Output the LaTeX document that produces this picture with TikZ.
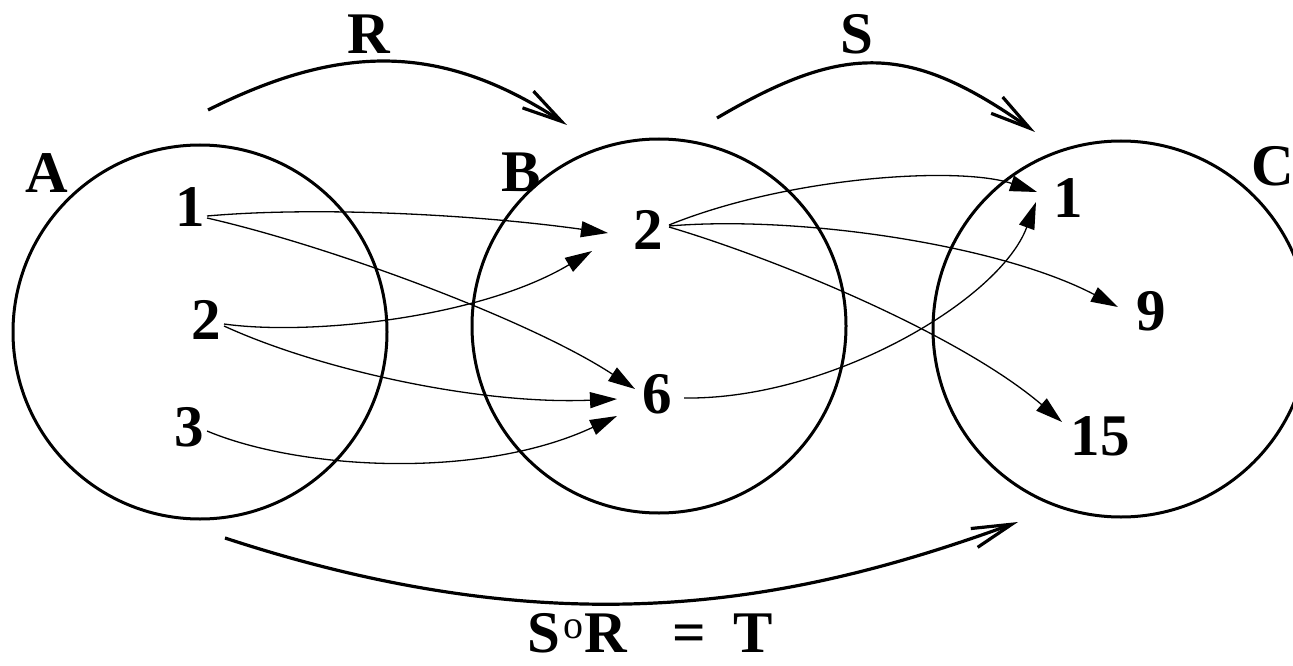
\documentclass[tikz,border=0pt]{standalone}
\usepackage{fontspec}
\setmainfont{Liberation Serif}
\usetikzlibrary{arrows.meta}
\begin{document}
\begin{tikzpicture}[x=1pt,y=-1pt,
  lbl/.style={font=\fontsize{59}{60}\selectfont\bfseries, inner sep=0pt},
  setc/.style={circle, draw, line width=3pt, inner sep=0pt},
  thin/.style={line width=1.3pt, -{Triangle[length=27pt,width=16pt]}},
  big/.style={line width=3.2pt, -{Straight Barb[length=40pt,width=20pt]}}]
\useasboundingbox (0,0) rectangle (1293,666);
% sets
\node[setc, minimum size=374pt] (CA) at (200,332) {};
\node[setc, minimum size=374pt] (CB) at (659,326) {};
\node[setc, minimum size=376pt] (CC) at (1121,329) {};
% set labels
\node[lbl] (LA) at (47,173) {A};
\node[lbl] (LB) at (521,172) {B};
\node[lbl] (LC) at (1273,166) {C};
% elements
\node[lbl] (a1) at (190,207) {1};
\node[lbl] (a2) at (206,320) {2};
\node[lbl] (a3) at (189,427) {3};
\node[lbl] (b2) at (648,230) {2};
\node[lbl] (b6) at (657,394) {6};
\node[lbl] (c1) at (1068,198) {1};
\node[lbl] (c9) at (1151,311) {9};
\node[lbl] (c15) at (1100,436) {15};
% relation labels
\node[lbl] (R) at (369,34) {R};
\node[lbl] (S) at (857,34) {S};
\node[lbl, anchor=base west] (T) at (527,652)
  {S\hspace{3pt}\raisebox{14pt}{\fontsize{40}{40}\selectfont\mdseries o}\hspace{1pt}R\hspace{46pt}=\hspace{27pt}T};
% R arrows
\draw[thin] ([shift={(17,9)}]a1.center) .. controls (320,206) and (480,215) .. ([shift={(-40,3)}]b2.center);
\draw[thin] ([shift={(17,11)}]a1.center) .. controls (330,246) and (530,320) .. ([shift={(-22,-5)}]b6.center);
\draw[thin] ([shift={(18,4)}]a2.center) .. controls (310,336) and (480,318) .. ([shift={(-56,21)}]b2.center);
\draw[thin] ([shift={(18,6)}]a2.center) .. controls (320,370) and (480,405) .. ([shift={(-40,5)}]b6.center);
\draw[thin] ([shift={(18,4)}]a3.center) .. controls (300,470) and (480,480) .. ([shift={(-40,22)}]b6.center);
% S arrows
\draw[thin] ([shift={(21,-5)}]b2.center) .. controls (790,176) and (960,166) .. ([shift={(-31,-6)}]c1.center);
\draw[thin] ([shift={(21,-4)}]b2.center) .. controls (800,215) and (1000,245) .. ([shift={(-33,-4)}]c9.center);
\draw[thin] ([shift={(21,-3)}]b2.center) .. controls (780,260) and (960,335) .. ([shift={(-38,-14)}]c15.center);
\draw[thin] ([shift={(27,4)}]b6.center) .. controls (830,400) and (1000,300) .. ([shift={(-32,4)}]c1.center);
% big arrows
\draw[big] ([shift={(8,-222)}]CA.center) .. controls (340,44) and (440,42) .. ([shift={(-92,-201)}]CB.center);
\draw[big] ([shift={(58,-208)}]CB.center) .. controls (846,42) and (910,44) .. ([shift={(-86,-197)}]CC.center);
\draw[big] ([shift={(25,206)}]CA.center) .. controls (560,648) and (790,605) .. ([shift={(-103,193)}]CC.center);
\end{tikzpicture}
\end{document}
